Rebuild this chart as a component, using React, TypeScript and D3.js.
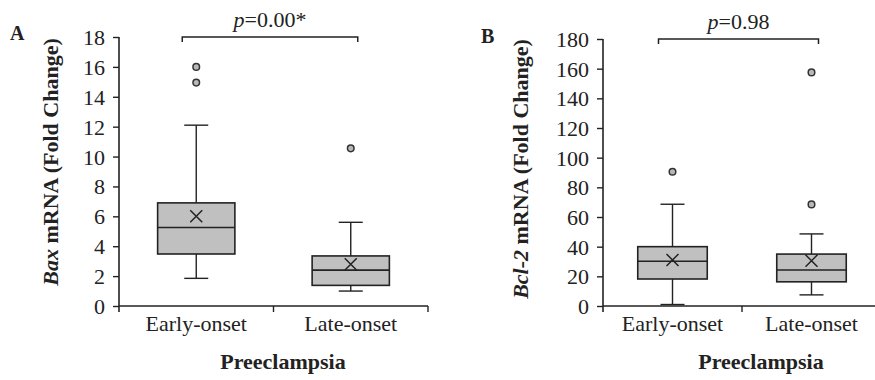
import React, { useRef, useEffect } from 'react';
import * as d3 from 'd3';

const categories = ['Early-onset', 'Late-onset'];

// Panel A: Bax mRNA (fold change)
const baxMin = [1.85, 1.0];
const baxQ1 = [3.48, 1.38];
const baxMedian = [5.25, 2.4];
const baxQ3 = [6.9, 3.35];
const baxMax = [12.1, 5.6];
const baxMean = [6.0, 2.8];
const baxOutliers = [[16.0, 14.95], [10.55]];
const baxTicks = [0, 2, 4, 6, 8, 10, 12, 14, 16, 18];

// Panel B: Bcl-2 mRNA (fold change)
const bclMin = [1.0, 7.5];
const bclQ1 = [18.2, 16.3];
const bclMedian = [30.2, 24.3];
const bclQ3 = [40.0, 35.0];
const bclMax = [68.6, 48.6];
const bclMean = [31.0, 30.5];
const bclOutliers = [[90.5], [157.5, 68.5]];
const bclTicks = [0, 20, 40, 60, 80, 100, 120, 140, 160, 180];

const FONT = '"Liberation Serif", "Times New Roman", serif';
const INK = '#222';

interface PanelSpec {
  letter: string;
  letterX: number;
  letterY: number;
  gene: string;
  labelX: number;
  labelY: number;
  x0: number;
  x1: number;
  y0: number;
  y1: number;
  yMax: number;
  ticks: number[];
  min: number[];
  q1: number[];
  median: number[];
  q3: number[];
  max: number[];
  mean: number[];
  outliers: number[][];
  pText: string;
  titleX: number;
}

const panels: PanelSpec[] = [
  {
    letter: 'A', letterX: 10, letterY: 40, gene: 'Bax', labelX: 58, labelY: 162,
    x0: 119, x1: 428, y0: 306, y1: 37, yMax: 18, ticks: baxTicks,
    min: baxMin, q1: baxQ1, median: baxMedian, q3: baxQ3, max: baxMax, mean: baxMean,
    outliers: baxOutliers, pText: '=0.00*', titleX: 283,
  },
  {
    letter: 'B', letterX: 481, letterY: 43, gene: 'Bcl-2', labelX: 528, labelY: 169,
    x0: 603, x1: 881, y0: 306, y1: 39, yMax: 180, ticks: bclTicks,
    min: bclMin, q1: bclQ1, median: bclMedian, q3: bclQ3, max: bclMax, mean: bclMean,
    outliers: bclOutliers, pText: '=0.98', titleX: 761,
  },
];

const App: React.FC = () => {
  const svgRef = useRef<SVGSVGElement>(null);

  useEffect(() => {
    if (!svgRef.current) return;
    const svg = d3.select(svgRef.current);
    svg.selectAll('*').remove();

    panels.forEach(p => {
      const g = svg.append('g');

      const y = d3.scaleLinear().domain([0, p.yMax]).range([p.y0, p.y1]);
      const x = d3.scaleBand().domain(categories).range([p.x0, p.x1]);
      const bw = x.bandwidth() / 2;
      const cx = (c: string) => x(c)! + x.bandwidth() / 2;

      // Y axis
      const yAxis = g.append('g')
        .attr('transform', `translate(${p.x0},0)`)
        .call(d3.axisLeft(y).tickValues(p.ticks).tickSize(6).tickPadding(8).tickSizeOuter(0));
      yAxis.select('.domain').attr('stroke', INK).attr('stroke-width', 1.6)
        .attr('d', `M0,${p.y1}V${p.y0 + 6}`);
      yAxis.selectAll('line').attr('stroke', INK).attr('stroke-width', 1.4);
      yAxis.selectAll('text')
        .attr('font-family', FONT).attr('font-size', 22).attr('fill', INK)
        .attr('dy', '0.34em');

      // X axis line with boundary ticks
      g.append('line')
        .attr('x1', p.x0).attr('x2', p.x1).attr('y1', p.y0).attr('y2', p.y0)
        .attr('stroke', INK).attr('stroke-width', 1.6);
      [p.x0 + x.bandwidth(), p.x1].forEach(tx => {
        g.append('line')
          .attr('x1', tx).attr('x2', tx).attr('y1', p.y0).attr('y2', p.y0 + 6)
          .attr('stroke', INK).attr('stroke-width', 1.4);
      });

      // Category labels
      categories.forEach(c => {
        g.append('text')
          .attr('x', cx(c)).attr('y', p.y0 + 25)
          .attr('text-anchor', 'middle')
          .attr('font-family', FONT).attr('font-size', 22).attr('fill', INK)
          .text(c);
      });

      // Boxes
      categories.forEach((c, i) => {
        const xc = cx(c);
        const cap = 12;
        // whiskers
        g.append('line')
          .attr('x1', xc).attr('x2', xc).attr('y1', y(p.max[i])).attr('y2', y(p.q3[i]))
          .attr('stroke', INK).attr('stroke-width', 1.4);
        g.append('line')
          .attr('x1', xc).attr('x2', xc).attr('y1', y(p.q1[i])).attr('y2', y(p.min[i]))
          .attr('stroke', INK).attr('stroke-width', 1.4);
        [p.max[i], p.min[i]].forEach(v => {
          g.append('line')
            .attr('x1', xc - cap).attr('x2', xc + cap).attr('y1', y(v)).attr('y2', y(v))
            .attr('stroke', INK).attr('stroke-width', 1.4);
        });
        // box
        g.append('rect')
          .attr('x', xc - bw / 2).attr('width', bw)
          .attr('y', y(p.q3[i])).attr('height', y(p.q1[i]) - y(p.q3[i]))
          .attr('fill', '#c0c0c0').attr('stroke', INK).attr('stroke-width', 1.6);
        g.append('line')
          .attr('x1', xc - bw / 2).attr('x2', xc + bw / 2)
          .attr('y1', y(p.median[i])).attr('y2', y(p.median[i]))
          .attr('stroke', INK).attr('stroke-width', 1.6);
        // mean marker
        const m = y(p.mean[i]);
        const s = 6;
        g.append('path')
          .attr('d', `M${xc - s},${m - s}L${xc + s},${m + s}M${xc - s},${m + s}L${xc + s},${m - s}`)
          .attr('stroke', INK).attr('stroke-width', 1.5).attr('fill', 'none');
        // outliers
        p.outliers[i].forEach(v => {
          g.append('circle')
            .attr('cx', xc).attr('cy', y(v)).attr('r', 3.3)
            .attr('fill', '#b8b8b8').attr('stroke', '#333').attr('stroke-width', 1.5);
        });
      });

      // Significance bracket
      const bx0 = cx(categories[0]) - 14;
      const bx1 = cx(categories[1]) + 7;
      const by = y(p.yMax);
      g.append('path')
        .attr('d', `M${bx0},${by + 5}V${by}H${bx1}V${by + 5}`)
        .attr('fill', 'none').attr('stroke', INK).attr('stroke-width', 1.5);
      const pt = g.append('text')
        .attr('x', (bx0 + bx1) / 2).attr('y', by - 10)
        .attr('text-anchor', 'middle')
        .attr('font-family', FONT).attr('font-size', 22).attr('fill', INK);
      pt.append('tspan').attr('font-style', 'italic').text('p');
      pt.append('tspan').text(p.pText);

      // Panel letter
      g.append('text')
        .attr('x', p.letterX).attr('y', p.letterY)
        .attr('font-family', FONT).attr('font-size', 20).attr('font-weight', 700).attr('fill', INK)
        .text(p.letter);

      // Y label
      const yl = g.append('text')
        .attr('transform', `translate(${p.labelX},${p.labelY}) rotate(-90)`)
        .attr('text-anchor', 'middle')
        .attr('font-family', FONT).attr('font-size', 22).attr('font-weight', 700).attr('fill', INK);
      yl.append('tspan').attr('font-style', 'italic').text(p.gene);
      yl.append('tspan').text(' mRNA (Fold Change)');

      // X title
      g.append('text')
        .attr('x', p.titleX).attr('y', p.y0 + 63)
        .attr('text-anchor', 'middle')
        .attr('font-family', FONT).attr('font-size', 22).attr('font-weight', 700).attr('fill', INK)
        .text('Preeclampsia');
    });
  }, []);

  return (
    <svg
      ref={svgRef}
      width={875}
      height={380}
      style={{ position: 'absolute', left: 0, top: 0, background: '#fff' }}
    />
  );
};

export default App;
